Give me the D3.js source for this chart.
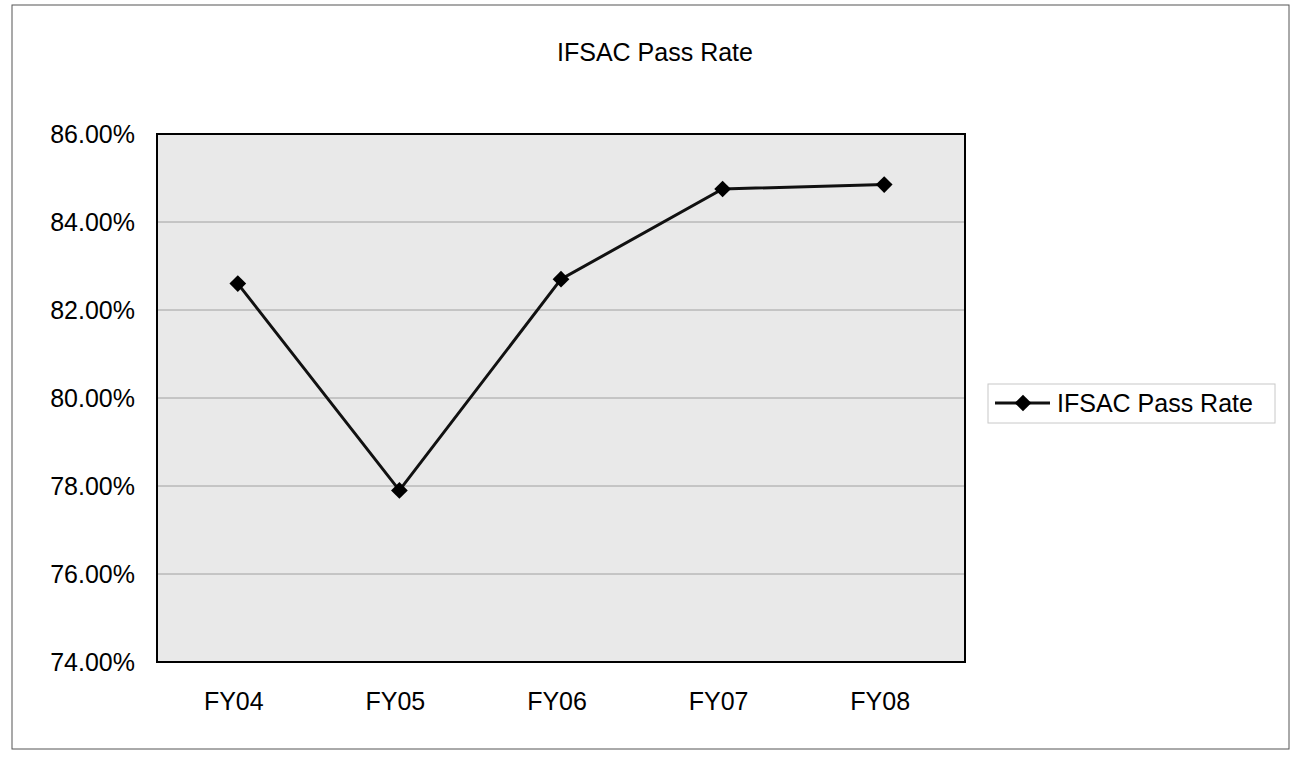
<!DOCTYPE html>
<html><head><meta charset="utf-8">
<script src="https://cdn.jsdelivr.net/npm/d3@7"></script>
<style>body{margin:0;background:#fff}svg{display:block}text{font-family:"Liberation Sans",Arial,sans-serif;fill:#000}</style>
</head><body><svg id="c" width="1296" height="757"></svg>
<script>
const categories = ["FY04","FY05","FY06","FY07","FY08"];
const passRate = [82.6, 77.9, 82.7, 84.75, 84.85];
const yTicks = [74, 76, 78, 80, 82, 84, 86];
const title = "IFSAC Pass Rate";
const seriesName = "IFSAC Pass Rate";

const svg = d3.select("#c");
const L = 157, R = 965, T = 134, B = 662;

svg.append("rect").attr("x",12).attr("y",5).attr("width",1277).attr("height",744)
  .attr("fill","#fff").attr("stroke","#555").attr("stroke-width",1);

const x = d3.scaleBand().domain(categories).range([L,R]);
const y = d3.scaleLinear().domain([74,86]).range([B,T]);

svg.append("rect").attr("x",L).attr("y",T).attr("width",R-L).attr("height",B-T).attr("fill","#e9e9e9");

svg.append("g").selectAll("line").data(yTicks.slice(1,-1)).join("line")
  .attr("x1",L).attr("x2",R).attr("y1",d=>y(d)).attr("y2",d=>y(d))
  .attr("stroke","#a0a0a0").attr("stroke-width",1);

svg.append("rect").attr("x",L).attr("y",T).attr("width",R-L).attr("height",B-T)
  .attr("fill","none").attr("stroke","#000").attr("stroke-width",2);

const yAxis = d3.axisLeft(y).tickValues(yTicks).tickSize(0).tickPadding(22).tickFormat(d=>d.toFixed(2)+"%");
const gy = svg.append("g").attr("transform",`translate(${L},0)`).call(yAxis);
gy.select(".domain").remove();
gy.selectAll("text").attr("font-size",25).attr("font-family","Liberation Sans, Arial, sans-serif").attr("fill","#000");

const xAxis = d3.axisBottom(x).tickSize(0).tickPadding(30);
const gx = svg.append("g").attr("transform",`translate(-4,${B})`).call(xAxis);
gx.select(".domain").remove();
gx.selectAll("text").attr("font-size",25).attr("font-family","Liberation Sans, Arial, sans-serif").attr("fill","#000");

const cx = d => x(d) + x.bandwidth()/2;
const line = d3.line().x((d,i)=>cx(categories[i])).y(d=>y(d));
svg.append("path").datum(passRate).attr("d",line).attr("fill","none").attr("stroke","#111").attr("stroke-width",3);

svg.append("g").selectAll("path").data(passRate).join("path")
  .attr("d", d3.symbol().type(d3.symbolSquare).size(140))
  .attr("transform",(d,i)=>`translate(${cx(categories[i])},${y(d)}) rotate(45)`)
  .attr("fill","#000");

svg.append("text").attr("x",655).attr("y",61).attr("text-anchor","middle").attr("font-size",25).text(title);

// legend
svg.append("rect").attr("x",988).attr("y",384).attr("width",287).attr("height",39)
  .attr("fill","#fff").attr("stroke","#c8c8c8").attr("stroke-width",1);
svg.append("line").attr("x1",995).attr("x2",1050).attr("y1",403).attr("y2",403).attr("stroke","#111").attr("stroke-width",3);
svg.append("path").attr("d", d3.symbol().type(d3.symbolSquare).size(140)()).attr("transform","translate(1023,403) rotate(45)").attr("fill","#000");
svg.append("text").attr("x",1057).attr("y",412).attr("font-size",25).text(seriesName);
</script></body></html>
